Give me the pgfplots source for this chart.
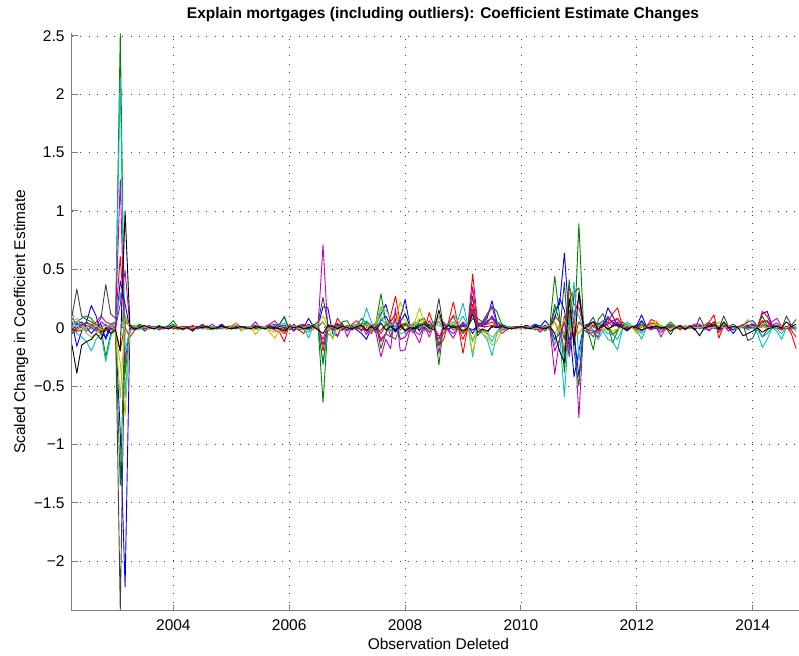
\documentclass[border=0pt]{standalone}
\usepackage{fontspec}
\setmainfont{Liberation Sans}
\usepackage{pgfplots}
\usepackage{pgfplotstable}
\pgfplotsset{compat=1.18}
\usetikzlibrary{calc}

\definecolor{mb}{rgb}{0,0,1}
\definecolor{mg}{rgb}{0,0.5,0}
\definecolor{mr}{rgb}{1,0,0}
\definecolor{mc}{rgb}{0,0.75,0.75}
\definecolor{mm}{rgb}{0.75,0,0.75}
\definecolor{my}{rgb}{0.75,0.75,0}
\definecolor{mk}{rgb}{0.25,0.25,0.25}

% month index i (0 = Apr 2002), one column per coefficient
\pgfplotstableread{
i s1 s2 s3 s4 s5 s6 s7 s8 s9 s10 s11 s12 s13 s14
0 0.05 0.02 -0.05 0.15 0.08 0.05 0.10 -0.02 -0.05 0.00 0.02 -0.03 0.00 -0.15
1 -0.16 0.05 0.00 -0.05 0.03 0.08 0.33 0.03 -0.02 -0.03 0.05 0.00 0.02 -0.39
2 -0.03 0.08 0.02 -0.08 0.02 0.03 0.10 0.05 0.02 -0.02 0.00 0.03 -0.02 -0.15
3 0.05 0.10 0.04 -0.12 -0.03 -0.05 0.07 0.00 0.05 0.00 -0.03 0.02 0.00 -0.12
4 0.19 0.08 0.02 -0.20 0.00 -0.08 0.05 -0.05 0.02 0.03 0.02 0.00 0.04 -0.10
5 0.10 0.02 -0.02 -0.10 0.05 -0.05 0.02 0.00 0.00 0.02 -0.02 -0.03 0.02 -0.05
6 -0.05 0.00 -0.05 -0.05 0.10 0.00 0.08 0.03 -0.03 0.00 0.00 0.05 -0.02 -0.10
7 -0.08 -0.25 0.00 -0.29 0.05 0.02 0.37 -0.10 0.00 -0.03 0.03 0.02 0.00 0.00
8 0.03 -0.05 0.03 -0.08 0.03 -0.03 0.12 0.00 0.02 0.02 0.00 -0.02 0.03 -0.05
9 0.00 0.00 0.05 0.02 0.03 -0.05 0.08 -0.03 0.00 -0.02 0.05 0.00 -0.03 -0.02
10 -0.90 2.52 0.61 2.15 1.27 -0.30 -2.42 0.40 -1.35 -0.20 0.30 0.20 -0.60 -0.20
11 -2.22 -0.40 0.00 -0.60 -0.30 -0.75 0.10 0.20 0.10 0.05 -0.20 0.49 0.10 1.00
12 0.02 -0.02 -0.08 0.01 0.02 -0.03 0.00 -0.01 0.01 0.02 -0.02 0.01 0.00 0.01
13 0.01 0.00 -0.02 0.02 -0.01 0.00 -0.02 0.01 0.00 -0.01 0.01 0.00 0.01 -0.01
14 0.00 0.03 0.00 -0.01 0.01 -0.02 0.01 0.00 0.02 0.00 -0.01 0.01 0.00 0.00
15 -0.01 0.01 0.01 0.00 0.00 0.01 -0.03 0.01 -0.01 0.01 0.00 -0.01 0.01 0.02
16 0.01 -0.01 0.00 0.01 0.02 0.00 0.00 -0.01 0.00 0.00 0.01 0.00 -0.01 0.00
17 0.00 0.00 -0.01 0.00 -0.01 0.01 0.01 0.00 0.01 -0.01 0.00 0.01 0.00 -0.01
18 0.01 0.02 0.00 -0.01 0.00 -0.01 -0.02 0.01 0.00 0.01 -0.01 0.00 0.01 0.01
19 -0.01 0.00 0.01 0.01 0.01 0.00 0.00 0.00 -0.01 0.00 0.01 -0.01 0.00 0.00
20 0.00 0.02 0.00 0.00 -0.01 0.01 0.01 -0.01 0.01 0.00 0.00 0.01 -0.01 -0.01
21 0.01 0.06 -0.01 0.02 0.01 0.00 -0.01 0.01 0.03 -0.01 0.02 0.00 0.00 0.01
22 0.00 0.00 0.01 -0.01 0.00 -0.02 0.00 0.00 -0.01 0.01 0.00 -0.01 0.01 0.00
23 -0.01 0.01 0.00 0.00 0.01 0.01 -0.02 0.01 0.00 0.00 -0.01 0.01 0.00 -0.01
24 0.01 -0.01 0.01 0.01 0.00 0.00 0.01 -0.01 0.01 0.01 0.00 0.00 -0.01 0.00
25 0.00 0.00 -0.01 -0.01 0.02 0.01 -0.02 0.00 0.00 -0.01 0.01 0.01 0.00 -0.03
26 0.01 0.01 0.00 0.00 0.00 -0.01 0.01 0.01 -0.01 0.00 0.00 -0.01 0.01 0.01
27 0.00 0.00 0.02 0.01 0.03 0.00 0.00 -0.01 0.00 0.01 -0.01 0.02 0.00 0.00
28 -0.01 0.01 0.00 -0.01 0.00 0.02 -0.01 0.00 0.01 0.00 0.01 0.00 -0.01 0.01
29 0.01 0.00 -0.01 -0.02 0.03 0.00 0.01 0.01 0.00 -0.01 0.00 0.01 0.01 -0.01
30 0.00 -0.01 0.01 0.00 0.00 -0.01 0.00 0.00 -0.01 0.01 0.01 -0.01 0.00 0.00
31 0.03 0.01 0.00 0.01 0.01 0.00 -0.01 0.02 0.01 0.00 -0.01 0.00 0.00 0.01
32 0.00 0.00 0.01 -0.01 -0.01 0.01 0.00 -0.01 0.00 0.01 0.00 0.01 -0.01 0.00
33 -0.01 0.01 0.00 0.00 0.01 0.02 0.01 0.00 0.01 -0.01 0.01 0.00 0.01 -0.01
34 0.01 -0.01 0.01 0.01 0.04 0.04 -0.01 0.01 0.00 0.00 0.00 0.02 0.02 0.00
35 0.00 0.00 -0.01 -0.01 0.00 -0.03 0.00 0.00 -0.01 0.01 -0.01 0.00 -0.01 0.01
36 0.01 0.01 0.00 0.00 -0.01 0.00 0.01 -0.01 0.00 0.00 0.01 -0.01 0.00 0.00
37 0.00 0.00 0.01 0.01 0.01 0.01 -0.01 0.01 0.01 -0.01 0.00 0.01 0.01 -0.01
38 -0.01 0.01 0.00 0.00 0.05 -0.06 0.00 0.00 -0.01 0.01 0.01 0.02 -0.02 0.01
39 0.01 0.00 -0.01 0.01 0.00 0.00 0.01 -0.01 0.00 0.00 -0.01 0.00 0.00 0.00
40 0.00 -0.01 0.01 -0.01 0.01 0.01 0.00 0.01 0.01 -0.01 0.00 0.01 0.01 -0.01
41 0.01 0.01 0.00 0.00 0.03 -0.04 -0.01 0.00 0.00 0.01 0.01 0.02 -0.02 0.01
42 -0.01 0.00 -0.02 0.02 0.06 -0.09 0.01 -0.01 0.01 0.00 0.00 0.03 -0.04 0.00
43 0.01 0.02 -0.04 0.03 0.01 -0.02 0.03 0.01 -0.01 -0.02 0.02 0.00 0.00 -0.01
44 0.02 -0.01 -0.12 0.10 0.02 0.01 0.09 0.00 0.02 -0.05 0.04 -0.02 0.01 -0.03
45 -0.01 0.01 0.03 -0.01 0.00 0.00 -0.02 0.01 0.00 0.01 -0.01 0.01 0.00 0.01
46 0.03 -0.02 0.00 0.02 -0.03 0.02 0.01 -0.02 0.01 0.00 0.02 -0.02 0.01 0.00
47 -0.02 0.01 -0.02 0.00 0.02 -0.01 0.00 0.01 -0.02 0.02 0.00 0.01 -0.01 0.01
48 0.00 0.02 -0.05 0.01 0.03 0.00 -0.01 0.00 0.01 -0.01 -0.02 0.02 0.00 -0.01
49 0.08 -0.02 0.02 -0.09 -0.01 0.02 0.01 0.03 -0.01 0.00 -0.04 0.00 0.02 0.00
50 0.01 0.03 0.00 0.02 0.00 -0.02 0.02 -0.01 0.02 0.01 0.01 -0.01 -0.01 0.01
51 0.02 0.00 0.02 0.01 0.03 0.04 0.05 0.01 -0.02 -0.01 0.00 0.02 0.02 -0.02
52 0.18 -0.64 -0.20 -0.32 0.71 0.10 0.26 0.05 -0.30 -0.10 -0.15 -0.15 0.05 -0.05
53 0.17 0.02 0.02 -0.05 -0.03 0.01 0.03 -0.02 0.03 0.02 0.02 0.01 -0.02 0.02
54 -0.05 0.01 -0.03 -0.08 0.02 -0.10 -0.02 0.01 -0.01 0.00 -0.03 -0.02 0.01 0.01
55 -0.07 -0.02 0.08 0.03 -0.08 0.01 0.01 0.03 0.02 0.04 0.01 0.00 -0.02 -0.01
56 0.02 0.05 0.02 0.00 0.04 -0.03 0.00 -0.02 0.03 -0.01 0.01 0.02 0.00 0.01
57 0.00 0.06 -0.02 0.01 -0.08 0.02 0.02 0.01 -0.02 0.01 -0.01 -0.03 0.01 0.00
58 0.01 -0.01 0.03 -0.02 0.01 0.00 -0.02 0.00 0.01 0.02 0.02 0.01 -0.01 -0.01
59 -0.02 0.02 0.06 0.03 0.00 0.02 0.01 0.02 -0.02 0.00 0.03 -0.01 0.02 0.01
60 -0.05 0.08 0.01 0.02 0.02 -0.02 -0.03 0.01 0.04 -0.02 0.00 0.02 0.00 0.02
61 -0.10 0.03 -0.02 0.17 -0.06 0.04 0.05 -0.03 0.02 0.03 0.06 -0.03 0.03 -0.02
62 0.00 -0.03 -0.05 0.05 0.02 0.01 0.02 0.02 -0.02 -0.01 0.01 0.02 -0.02 0.01
63 0.03 0.05 0.02 -0.02 -0.05 0.05 -0.04 0.00 0.02 0.02 -0.03 0.01 0.03 -0.02
64 0.12 0.29 -0.10 0.18 -0.25 0.18 -0.02 0.06 -0.18 -0.05 0.08 -0.12 0.10 0.04
65 0.20 0.05 -0.05 0.06 -0.10 0.15 0.03 0.10 -0.05 0.02 0.03 -0.05 0.06 -0.02
66 0.05 -0.07 0.10 -0.02 -0.18 0.08 0.02 0.02 0.03 0.05 -0.03 -0.08 0.02 0.01
67 -0.03 -0.10 0.27 0.02 0.17 0.05 -0.04 -0.02 0.05 0.12 0.02 0.08 0.04 -0.03
68 0.08 0.02 0.05 -0.10 -0.20 0.22 0.01 0.05 -0.02 0.03 -0.05 -0.10 0.12 0.02
69 0.24 0.04 -0.03 -0.08 -0.19 0.12 0.03 0.12 0.02 -0.02 -0.04 -0.08 0.06 -0.03
70 0.02 0.01 0.02 0.00 -0.02 0.02 0.00 0.01 0.01 0.01 0.00 -0.01 0.01 0.00
71 0.03 -0.04 0.00 0.05 -0.05 0.05 0.02 0.00 -0.02 0.02 0.03 -0.03 0.02 -0.01
72 -0.02 0.06 0.03 0.02 -0.13 0.17 -0.03 0.02 0.03 0.00 0.02 -0.06 0.08 0.02
73 0.01 0.08 -0.02 -0.03 0.02 0.03 0.05 -0.01 0.04 -0.02 -0.02 0.01 0.02 0.03
74 0.03 -0.02 0.13 0.02 -0.08 -0.04 0.01 0.02 -0.01 0.06 0.01 -0.04 -0.02 0.00
75 0.02 0.03 0.01 0.05 0.03 0.00 0.02 0.01 0.02 0.00 0.03 0.02 0.00 -0.02
76 0.10 -0.32 -0.15 0.05 -0.22 0.10 0.25 0.05 -0.15 -0.07 0.02 -0.10 0.05 0.15
77 0.00 0.03 -0.10 0.00 0.05 0.01 -0.02 0.00 0.02 -0.05 0.00 0.03 0.00 -0.01
78 -0.02 0.02 0.05 0.04 -0.03 0.02 0.02 -0.01 0.01 0.03 0.02 -0.02 0.01 0.02
79 0.03 0.02 0.22 0.11 -0.09 0.05 -0.02 0.02 0.01 0.10 0.05 -0.05 0.03 0.00
80 0.01 -0.02 0.02 0.07 0.00 0.00 0.01 0.00 -0.01 0.01 0.03 0.00 0.00 0.01
81 0.02 0.04 -0.22 0.21 0.05 -0.03 -0.05 0.01 0.02 -0.10 0.10 0.03 -0.02 -0.03
82 0.01 0.01 0.01 0.02 0.00 0.01 0.00 0.00 0.01 0.00 0.01 0.00 0.01 0.00
83 -0.05 0.16 0.46 -0.25 0.35 -0.22 0.27 -0.02 0.08 0.20 -0.12 0.15 -0.10 0.12
84 0.02 0.08 0.05 0.01 0.02 -0.03 -0.07 0.01 0.04 0.02 0.00 0.01 -0.01 -0.04
85 0.04 0.05 0.02 -0.05 0.05 -0.05 -0.02 0.02 0.03 0.01 -0.03 0.03 -0.03 -0.01
86 0.08 0.12 0.03 -0.10 0.10 -0.08 -0.05 0.04 0.06 0.01 -0.05 0.05 -0.04 -0.03
87 0.23 0.18 0.05 -0.24 0.18 -0.15 0.02 0.10 0.08 0.02 -0.12 0.08 -0.08 0.01
88 0.05 0.14 0.01 -0.05 0.03 -0.12 0.01 0.03 0.05 0.00 -0.03 0.02 -0.05 0.00
89 0.02 0.03 0.00 -0.01 -0.05 -0.02 0.00 0.01 0.02 0.01 0.00 -0.02 -0.01 0.01
90 0.01 0.01 0.01 0.00 -0.02 0.00 -0.01 0.00 0.01 0.00 0.01 -0.01 0.00 0.00
91 0.00 0.01 -0.01 0.01 0.00 0.01 0.00 0.01 0.00 -0.01 0.00 0.00 0.01 -0.01
92 0.01 0.00 0.00 -0.01 0.01 0.00 0.01 0.00 -0.01 0.00 -0.01 0.01 0.00 0.00
93 0.00 -0.01 0.01 0.00 0.00 0.01 -0.01 -0.01 0.00 0.01 0.00 0.00 -0.01 0.01
94 0.02 0.01 0.00 0.01 -0.01 -0.01 0.00 0.01 0.01 0.00 0.01 -0.01 0.00 0.00
95 0.01 0.00 0.01 -0.01 0.01 0.00 0.01 0.00 -0.01 0.01 -0.01 0.01 0.01 -0.01
96 0.03 -0.02 0.00 0.01 0.00 0.01 -0.01 0.02 0.01 -0.01 0.00 0.00 -0.01 0.01
97 0.01 0.01 -0.01 0.00 -0.04 0.00 0.02 0.00 0.00 0.01 0.01 -0.02 0.00 0.00
98 0.06 -0.03 0.01 0.01 0.01 -0.01 -0.01 0.02 0.01 0.00 -0.01 0.01 0.01 -0.01
99 0.01 0.02 0.00 -0.02 0.00 0.02 0.01 0.00 -0.01 0.01 0.00 0.00 0.00 0.01
100 0.15 0.44 0.10 -0.10 -0.40 -0.05 -0.10 0.08 0.20 0.05 -0.15 -0.20 0.05 -0.05
101 0.20 0.10 0.05 -0.05 -0.10 0.03 -0.05 0.25 0.05 -0.05 0.02 -0.10 -0.03 -0.20
102 0.64 -0.38 -0.22 -0.59 0.10 -0.05 0.39 0.15 -0.10 0.08 -0.25 0.05 0.08 -0.30
103 0.05 0.10 0.36 0.05 -0.15 0.02 -0.20 -0.10 0.41 0.15 0.00 -0.25 -0.05 0.25
104 -0.42 -0.10 0.20 0.39 0.05 -0.05 0.30 -0.05 -0.20 -0.10 0.15 0.10 0.03 -0.15
105 -0.20 0.89 0.17 -0.28 -0.77 -0.05 0.34 -0.42 -0.50 0.05 0.10 0.25 -0.05 0.30
106 0.02 -0.02 0.01 0.01 0.02 0.02 0.00 -0.01 0.02 0.00 -0.01 0.01 0.01 -0.01
107 0.03 -0.05 -0.02 0.02 -0.05 0.01 0.03 0.01 -0.03 0.01 0.02 -0.02 0.00 0.02
108 0.05 -0.19 0.02 -0.03 -0.04 0.02 0.09 0.02 -0.08 0.03 -0.02 -0.03 0.03 0.05
109 0.03 0.07 -0.03 -0.10 -0.08 0.02 -0.02 0.01 0.03 -0.02 -0.05 -0.04 0.01 -0.01
110 0.03 0.12 0.02 -0.03 0.02 -0.03 0.03 0.02 0.06 0.01 -0.01 0.01 -0.02 0.02
111 0.17 0.02 0.05 -0.10 0.10 0.01 -0.02 0.08 0.01 0.03 -0.05 0.05 0.01 -0.01
112 0.10 -0.13 0.12 -0.12 0.03 -0.05 0.02 0.05 -0.06 0.06 -0.06 0.01 -0.03 0.01
113 0.02 -0.03 0.17 -0.19 0.08 -0.02 0.05 0.01 -0.02 0.08 -0.10 0.04 -0.01 0.03
114 0.03 0.05 0.02 -0.02 0.02 0.01 0.00 0.02 0.03 0.01 -0.01 0.01 0.00 0.00
115 -0.01 0.02 0.00 0.05 -0.02 0.03 -0.03 0.00 0.01 0.00 0.03 -0.01 0.02 -0.02
116 0.01 0.00 0.01 0.01 0.01 0.00 0.01 0.01 0.00 0.01 0.00 0.01 0.00 0.01
117 0.02 0.01 0.00 -0.02 -0.03 -0.05 0.00 0.01 0.01 0.00 -0.01 -0.02 -0.03 0.00
118 0.11 0.05 0.02 -0.10 0.01 0.02 -0.03 0.06 0.03 0.01 -0.05 0.01 0.01 -0.02
119 0.01 0.01 0.01 0.00 0.00 0.00 0.01 0.00 0.00 0.01 0.00 0.00 0.00 0.00
120 0.02 0.00 0.07 0.01 -0.02 0.03 -0.01 0.01 0.00 0.04 0.00 -0.01 0.02 0.00
121 -0.01 0.02 0.05 0.00 0.01 0.06 0.00 0.00 0.01 0.03 0.00 0.00 0.03 0.01
122 0.01 -0.02 0.00 0.02 -0.08 0.01 -0.01 0.01 -0.01 0.00 0.01 -0.04 0.01 0.00
123 0.00 0.01 -0.01 0.00 0.00 0.00 0.00 0.00 0.01 -0.01 0.00 0.00 0.00 0.00
124 0.01 0.05 0.00 0.01 0.02 -0.01 -0.06 0.01 0.03 0.00 0.01 0.01 -0.01 -0.03
125 -0.01 0.01 0.01 -0.01 0.00 0.01 0.01 0.00 0.00 0.01 -0.01 0.00 0.01 0.00
126 0.02 -0.01 -0.02 0.02 0.01 0.00 0.02 0.01 -0.01 -0.01 0.01 0.01 0.00 0.01
127 0.00 0.01 0.02 -0.01 -0.02 0.02 -0.01 0.00 0.01 0.01 0.00 -0.01 0.01 -0.01
128 0.01 0.00 0.00 0.01 0.01 -0.01 0.02 0.01 0.00 0.00 0.01 0.00 0.00 0.01
129 -0.02 0.02 0.01 0.00 0.03 0.01 -0.02 -0.01 0.01 0.00 0.00 0.02 0.00 -0.01
130 0.02 -0.01 0.00 0.01 0.03 0.00 0.09 0.01 0.00 0.00 0.00 0.01 0.00 -0.07
131 0.00 0.01 0.02 -0.02 0.00 0.02 0.01 0.00 0.01 0.01 -0.01 0.00 0.01 0.00
132 0.04 0.00 0.05 0.01 -0.03 0.00 0.02 0.02 0.00 0.02 0.00 -0.02 0.00 0.01
133 0.01 0.02 0.11 -0.01 0.02 0.01 0.05 0.00 0.01 0.05 0.00 0.01 0.00 0.03
134 -0.02 0.01 -0.09 0.02 0.00 0.05 -0.01 -0.01 0.00 -0.04 0.01 0.00 0.02 -0.01
135 0.01 0.04 0.02 0.00 0.02 0.00 0.10 0.00 0.02 0.01 0.00 0.01 0.00 0.05
136 0.00 0.00 0.01 0.01 -0.03 0.01 0.01 0.00 0.00 0.00 0.01 -0.01 0.01 0.00
137 -0.05 0.01 0.00 0.00 0.01 0.00 0.03 -0.02 0.01 0.00 0.00 0.01 0.00 0.01
138 0.01 0.00 0.01 -0.01 0.00 0.01 0.00 0.01 0.00 0.01 -0.01 0.00 0.00 0.00
139 0.02 0.01 0.00 0.01 0.01 0.02 0.03 0.01 0.00 0.00 0.01 0.01 0.01 -0.07
140 0.05 -0.01 0.02 -0.02 0.00 0.07 -0.11 0.02 -0.01 0.01 -0.01 0.00 0.03 -0.05
141 0.06 0.02 0.01 0.00 0.02 0.03 -0.09 0.03 0.01 0.00 0.00 0.01 0.01 -0.03
142 0.01 0.01 0.00 -0.05 0.00 0.01 0.00 0.00 0.01 0.00 -0.02 0.00 0.00 0.00
143 0.12 0.10 0.14 -0.17 0.02 0.03 -0.08 0.05 0.05 0.06 -0.08 0.01 0.01 -0.04
144 0.14 0.02 0.10 -0.10 0.01 0.01 -0.02 0.06 0.01 0.05 -0.05 0.00 0.00 -0.01
145 0.02 0.00 0.01 0.00 0.05 -0.01 0.01 0.01 0.00 0.00 0.00 0.02 0.00 0.00
146 0.01 0.01 0.00 -0.03 0.08 0.00 0.02 0.00 0.00 0.00 -0.01 0.04 0.00 0.01
147 0.00 -0.02 -0.02 -0.10 0.01 0.02 -0.01 0.00 -0.01 -0.01 -0.05 0.00 0.01 0.00
148 0.01 0.01 0.01 0.00 0.00 -0.01 0.10 0.00 0.00 0.00 0.00 0.00 0.00 0.05
149 0.02 0.00 -0.05 0.01 -0.01 0.03 0.02 0.01 0.00 -0.02 0.00 0.00 0.02 0.01
150 -0.01 0.01 -0.18 -0.03 0.00 0.00 0.07 0.00 0.00 -0.08 -0.01 0.00 0.00 0.03
}\coeftable

\begin{document}
\begin{tikzpicture}
\begin{axis}[
    name=ax,
    scale only axis,
    width=727pt, height=577.7pt,
    xmin=2002.25, xmax=2014.8,
    ymin=-2.425, ymax=2.525,
    axis x line*=bottom, axis y line*=left,
    axis line style={gray, line width=1pt},
    tick align=inside,
    major tick length=6pt,
    tick style={gray, line width=1pt},
    xtick={2004,2006,2008,2010,2012,2014},
    xticklabels={2004,2006,2008,2010,2012,2014},
    ytick={-2,-1.5,-1,-0.5,0,0.5,1,1.5,2,2.5},
    yticklabels={−2,−1.5,−1,−0.5,0,0.5,1,1.5,2,2.5},
    tick label style={font=\fontsize{15.5}{18}\selectfont, black},
    xticklabel style={anchor=base, yshift=-20pt},
    yticklabel style={anchor=east, xshift=-4pt},
    grid=major,
    major grid style={black!75, line width=0.8pt, dash pattern=on 0.8pt off 7.6pt},
    title={Explain mortgages (including outliers): Coefficient Estimate Changes},
    title style={font=\fontsize{15.5}{18}\selectfont\bfseries, at={(axis description cs:0.5103,1.0242)}, anchor=base, yshift=-5pt},
    xlabel={Observation Deleted},
    xlabel style={font=\fontsize{15.5}{18}\selectfont, at={(axis description cs:0.504,-0.0663)}, anchor=base},
    ylabel={Scaled Change in Coefficient Estimate},
    ylabel style={font=\fontsize{15.5}{18}\selectfont, at={(axis description cs:-0.0646,0.5)}, anchor=base, rotate=0},
    sl/.style={line width=0.9pt, line join=round},
]
\addplot[sl, mb] table[x expr=2002.25+\thisrow{i}/12, y=s1] {\coeftable};
\addplot[sl, mg] table[x expr=2002.25+\thisrow{i}/12, y=s2] {\coeftable};
\addplot[sl, mr] table[x expr=2002.25+\thisrow{i}/12, y=s3] {\coeftable};
\addplot[sl, mc] table[x expr=2002.25+\thisrow{i}/12, y=s4] {\coeftable};
\addplot[sl, mm] table[x expr=2002.25+\thisrow{i}/12, y=s5] {\coeftable};
\addplot[sl, my] table[x expr=2002.25+\thisrow{i}/12, y=s6] {\coeftable};
\addplot[sl, mk] table[x expr=2002.25+\thisrow{i}/12, y=s7] {\coeftable};
\addplot[sl, mb] table[x expr=2002.25+\thisrow{i}/12, y=s8] {\coeftable};
\addplot[sl, mg] table[x expr=2002.25+\thisrow{i}/12, y=s9] {\coeftable};
\addplot[sl, mr] table[x expr=2002.25+\thisrow{i}/12, y=s10] {\coeftable};
\addplot[sl, mc] table[x expr=2002.25+\thisrow{i}/12, y=s11] {\coeftable};
\addplot[sl, mm] table[x expr=2002.25+\thisrow{i}/12, y=s12] {\coeftable};
\addplot[sl, my] table[x expr=2002.25+\thisrow{i}/12, y=s13] {\coeftable};
\addplot[sl, black] table[x expr=2002.25+\thisrow{i}/12, y=s14] {\coeftable};
\end{axis}
\pgfresetboundingbox
\path ($(ax.south west)+(-72pt,-44.3pt)$) rectangle ($(ax.north east)+(0pt,33pt)$);
\end{tikzpicture}
\end{document}
